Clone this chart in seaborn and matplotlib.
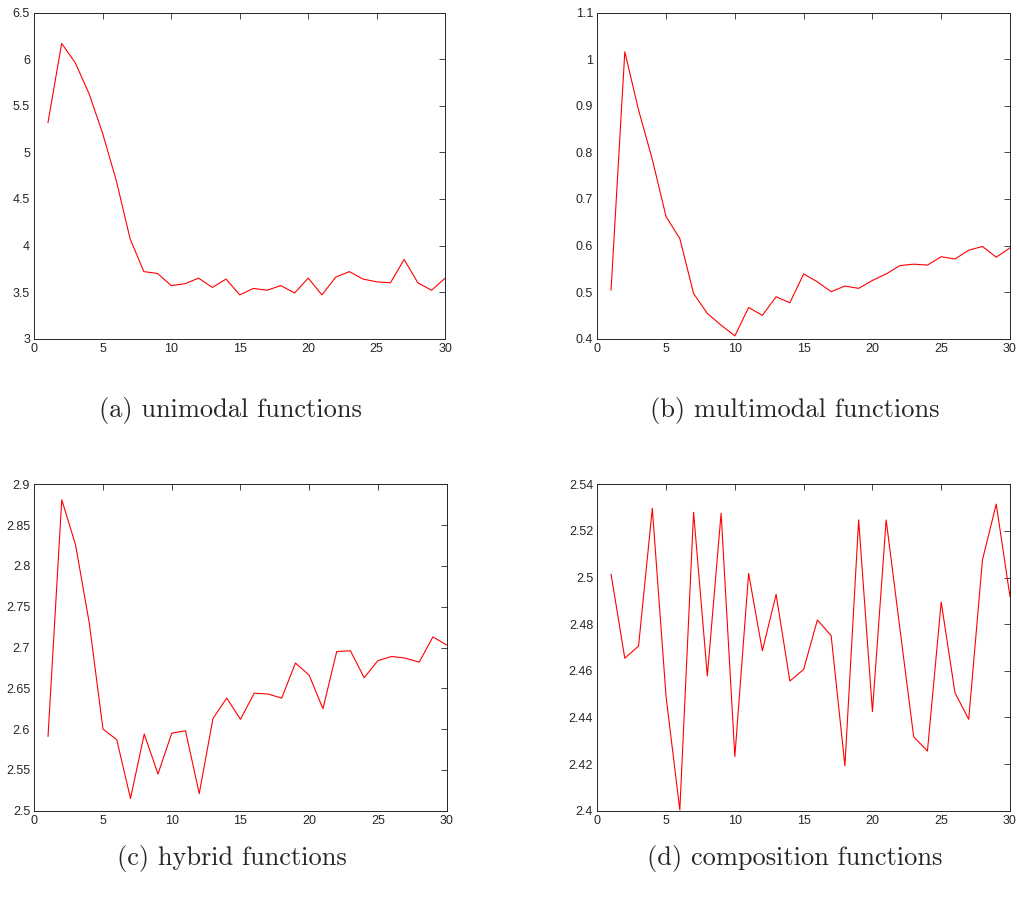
import numpy as np
import pandas as pd
import matplotlib
matplotlib.use('Agg')
import matplotlib.pyplot as plt
from matplotlib.ticker import FormatStrFormatter
import seaborn as sns

gens = list(range(1, 31))

unimodal = [5.32, 6.17, 5.96, 5.63, 5.20, 4.69, 4.07, 3.72, 3.70, 3.57,
            3.59, 3.65, 3.55, 3.64, 3.47, 3.54, 3.52, 3.57, 3.49, 3.65,
            3.47, 3.66, 3.72, 3.64, 3.61, 3.60, 3.85, 3.60, 3.52, 3.65]

multimodal = [0.504, 1.016, 0.891, 0.785, 0.662, 0.615, 0.497, 0.454, 0.429, 0.406,
              0.467, 0.450, 0.490, 0.477, 0.539, 0.522, 0.501, 0.513, 0.508, 0.525,
              0.539, 0.557, 0.560, 0.558, 0.576, 0.571, 0.590, 0.598, 0.575, 0.595]

hybrid = [2.591, 2.881, 2.826, 2.730, 2.600, 2.587, 2.515, 2.594, 2.545, 2.595,
          2.598, 2.521, 2.613, 2.638, 2.612, 2.644, 2.643, 2.638, 2.681, 2.666,
          2.625, 2.695, 2.696, 2.663, 2.684, 2.689, 2.687, 2.682, 2.713, 2.703]

composition = [2.5015, 2.4654, 2.4706, 2.5297, 2.4489, 2.4003, 2.5280, 2.4578, 2.5276, 2.4232,
               2.5018, 2.4686, 2.4928, 2.4556, 2.4606, 2.4818, 2.4751, 2.4193, 2.5247, 2.4425,
               2.5247, 2.4780, 2.4317, 2.4256, 2.4895, 2.4506, 2.4392, 2.5076, 2.5315, 2.4918]

captions = ['(a) unimodal functions', '(b) multimodal functions',
            '(c) hybrid functions', '(d) composition functions']

sns.set_style('white')
plt.rcParams['font.family'] = ['Liberation Sans', 'DejaVu Sans']

fig = plt.figure(figsize=(10.17, 9), dpi=100)

panels = [
    (unimodal, [0.0337, 0.6237, 0.4041, 0.3622], np.arange(3, 6.51, 0.5), (3, 6.5)),
    (multimodal, [0.5873, 0.6237, 0.4058, 0.3622], np.arange(0.4, 1.101, 0.1), (0.4, 1.1)),
    (hybrid, [0.0337, 0.0992, 0.4055, 0.3627], np.arange(2.5, 2.901, 0.05), (2.5, 2.9)),
    (composition, [0.5873, 0.0992, 0.4058, 0.3627], np.arange(2.4, 2.541, 0.02), (2.4, 2.54)),
]
cap_pos = [(230, 411), (795, 411), (232, 858), (795, 858)]

for (vals, rect, yt, ylim), cap, (cx, cy) in zip(panels, captions, cap_pos):
    ax = fig.add_axes(rect)
    df = pd.DataFrame({'gen': gens, 'val': vals})
    sns.lineplot(data=df, x='gen', y='val', ax=ax, color='red', linewidth=0.8)
    ax.set_xlim(0, 30)
    ax.set_ylim(*ylim)
    ax.set_xticks(range(0, 31, 5))
    ax.set_yticks(yt)
    ax.yaxis.set_major_formatter(FormatStrFormatter('%g'))
    ax.set_xlabel('')
    ax.set_ylabel('')
    ax.tick_params(direction='in', top=True, right=True, length=4, width=0.6,
                   color='#262626', labelcolor='#262626', labelsize=9, pad=3)
    for s in ax.spines.values():
        s.set_color('#262626')
        s.set_linewidth(0.7)
    fig.text(cx / 1017, 1 - cy / 900, cap, ha='center', va='center',
             fontsize=19, family='cmr10')

fig.savefig('out.png', dpi=100)
